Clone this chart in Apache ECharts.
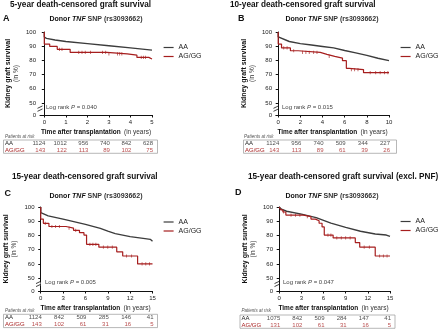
<!DOCTYPE html>
<html>
<head>
<meta charset="utf-8">
<script src="https://cdn.jsdelivr.net/npm/echarts@6/dist/echarts.min.js"></script>
<style>
  html, body { margin: 0; padding: 0; background: #fff; }
  #chart { width: 440px; height: 329px; }
</style>
</head>
<body>
<div id="chart"></div>
<script>
// ---- values ----
var groups = ['AA', 'AG/GG'];
var panelTitles = [
  '5-year death-censored graft survival',
  '10-year death-censored graft survival',
  '15-year death-censored graft survival',
  '15-year death-censored graft survival (excl. PNF)'
];
var letters = ['A', 'B', 'C', 'D'];
var pValues = ['0.040', '0.015', '0.005', '0.047'];
var yTicks = [50, 60, 70, 80, 90, 100];

var ticksA = [0, 1, 2, 3, 4, 5];
var ticksB = [0, 2, 4, 6, 8, 10];
var ticksC = [0, 3, 6, 9, 12, 15];
var ticksD = [0, 3, 6, 9, 12, 15];

// survival (%) vs years
var aaA = [[0, 100], [0, 96.5], [0.1, 95.5], [0.5, 94.4], [1, 93.3], [2, 91.8], [3, 90.3], [4, 88.8], [5, 87.2]];
var agA = [[0, 100], [0, 91.5], [0.25, 89.8], [0.6, 87.8], [1.2, 85.6], [2.9, 84.6], [3.85, 83.7], [4.3, 82.1], [4.85, 81], [5, 81]];
var censA = [0.7, 0.82, 1.6, 1.75, 1.9, 2.15, 2.7, 2.85, 3.0, 3.4, 3.5, 3.6, 4.5, 4.6, 4.7];

var aaB = [[0, 100], [0, 96.5], [0.1, 95.5], [1, 93.3], [2, 91.8], [3, 90.8], [4, 89.8], [5, 88.8], [6, 87], [7, 85.3], [8, 83.5], [9, 81.5], [10, 79.8]];
var agB = [[0, 100], [0, 91.5], [0.3, 88.8], [1.1, 86.8], [1.8, 85.6], [3.8, 84.2], [4.4, 82.8], [5.1, 81.6], [5.8, 79.8], [6.15, 74.4], [6.4, 73.5], [7.7, 71.3], [10, 71.3]];
var censB = [0.5, 0.8, 1.4, 2.2, 2.5, 2.8, 3.2, 3.5, 4.6, 6.6, 6.9, 7.2, 8.3, 8.8, 9.2, 9.6, 9.9];

var aaC = [[0, 100], [0, 96], [0.2, 95], [1, 93.8], [3, 91.5], [6, 87.8], [8, 85], [9, 83], [10, 81.3], [12, 79.2], [14, 77.8], [14.7, 77.3], [15, 76]];
var agC = [[0, 100], [0, 91.5], [0.35, 88.5], [1.1, 86.3], [3.4, 85.2], [4.4, 83.6], [5.2, 82], [5.8, 80.3], [6.15, 73.8], [7.8, 71.8], [10.2, 68.5], [11, 65.6], [13, 60], [15, 60]];
var censC = [0.6, 1.5, 2, 2.5, 3.8, 4.7, 6.6, 7, 7.4, 8.4, 9, 9.6, 11.5, 12.2, 13.6, 14.1, 14.6];

var aaD = [[0, 100], [0.3, 98.5], [1, 97], [3, 95], [5, 92.5], [7, 88.7], [9, 85.7], [11, 83], [13, 81], [14.5, 80.3], [15, 79.3]];
var agD = [[0, 100], [0.2, 98], [0.5, 96.5], [0.9, 94.3], [3.3, 93.3], [4.3, 91.5], [4.9, 90.3], [5.4, 88.6], [5.8, 86], [6.1, 80.3], [7.3, 78.3], [10.3, 75], [10.9, 71.8], [13, 65.6], [15, 65.6]];
var censD = [0.6, 1.6, 2.2, 2.8, 3.8, 6.6, 7, 7.8, 8.4, 9, 9.6, 11.5, 12.2, 13.6, 14.1, 14.6];

// patients at risk
var riskAA_A = [1124, 1012, 956, 740, 842, 628];
var riskAG_A = [143, 122, 113, 89, 102, 75];
var riskAA_B = [1124, 956, 740, 509, 344, 227];
var riskAG_B = [143, 113, 89, 61, 39, 26];
var riskAA_C = [1124, 842, 509, 285, 146, 41];
var riskAG_C = [143, 102, 61, 31, 16, 5];
var riskAA_D = [1075, 842, 509, 284, 147, 41];
var riskAG_D = [131, 102, 61, 31, 16, 5];

// ---- layout ----
var layout = [
  { grid: [40, 32, 112, 83], xMin: -0.2, xMax: 5, yMin: 41.5, box: [3.5, 140, 154, 13.3],
    letter: [3, 14.5], title: [10, 0.5], sub: [96, 16], legend: [163, 44], logrank: [46, 104], risk: [5, 134.5] },
  { grid: [276, 32, 113, 83], xMin: -0.2, xMax: 10, yMin: 41.5, box: [243.5, 140, 153, 13.3],
    letter: [238, 14.5], title: [230, 0.5], sub: [332, 16], legend: [400, 44], logrank: [282, 104], risk: [244, 134.5] },
  { grid: [38.5, 207, 114, 84], xMin: -0.3, xMax: 15, yMin: 41, box: [3.5, 314.3, 154, 13.3],
    letter: [4.5, 189.5], title: [12, 173], sub: [96, 193], legend: [163, 218.5], logrank: [45, 279], risk: [5, 308.5] },
  { grid: [277, 207, 113, 84], xMin: -0.3, xMax: 15, yMin: 41, box: [240, 315, 155, 13.3],
    letter: [235, 188.5], title: [248, 173], sub: [332, 192.5], legend: [400, 218], logrank: [283, 279], risk: [241.5, 308.5] }
];

var panels = [
  { ticks: ticksA, aa: aaA, ag: agA, cens: censA, rAA: riskAA_A, rAG: riskAG_A },
  { ticks: ticksB, aa: aaB, ag: agB, cens: censB, rAA: riskAA_B, rAG: riskAG_B },
  { ticks: ticksC, aa: aaC, ag: agC, cens: censC, rAA: riskAA_C, rAG: riskAG_C },
  { ticks: ticksD, aa: aaD, ag: agD, cens: censD, rAA: riskAA_D, rAG: riskAG_D }
];

var FONT = 'Liberation Sans, Arial, sans-serif';
var AA_COLOR = '#3c3c3c';
var AG_COLOR = '#a61e1e';

function stepAt(arr, t) {
  var s = arr[0][1];
  for (var k = 0; k < arr.length; k++) {
    if (arr[k][0] <= t) s = arr[k][1];
  }
  return s;
}

var option = {
  backgroundColor: '#fff',
  animation: false,
  textStyle: { fontFamily: FONT },
  title: [], grid: [], xAxis: [], yAxis: [], legend: [], series: []
};

panels.forEach(function (p, i) {
  var L = layout[i];
  var g = option.grid.length;
  var ppu = L.grid[2] / (L.xMax - L.xMin);

  // texts
  option.title.push({ text: panelTitles[i], left: L.title[0], top: L.title[1], padding: 0,
    textStyle: { fontSize: 8.2, fontWeight: 'bold', color: '#111', fontFamily: FONT } });
  option.title.push({ text: letters[i], left: L.letter[0], top: L.letter[1], padding: 0,
    textStyle: { fontSize: 9, fontWeight: 'bold', color: '#111', fontFamily: FONT } });
  option.title.push({ text: '{b|Donor }{bi|TNF}{n| SNP (rs3093662)}', left: L.sub[0], top: L.sub[1], padding: 0, textAlign: 'center',
    textStyle: { fontFamily: FONT, rich: {
      b: { fontSize: 7, fontWeight: 'bold', color: '#111', fontFamily: FONT },
      bi: { fontSize: 7, fontWeight: 'bold', fontStyle: 'italic', color: '#111', fontFamily: FONT },
      n: { fontSize: 7, color: '#333', fontFamily: FONT } } } });
  option.title.push({ text: 'Log rank {i|P} = ' + pValues[i], left: L.logrank[0], top: L.logrank[1], padding: 0,
    textStyle: { fontSize: 6, color: '#444', fontWeight: 'normal', fontFamily: FONT,
      rich: { i: { fontSize: 6, fontStyle: 'italic', color: '#444', fontFamily: FONT } } } });
  option.title.push({ text: 'Patients at risk', left: L.risk[0], top: L.risk[1], padding: 0,
    textStyle: { fontSize: 4.5, fontStyle: 'italic', fontWeight: 'normal', color: '#555', fontFamily: FONT } });

  // main KM plot
  option.grid.push({ left: L.grid[0], top: L.grid[1], width: L.grid[2], height: L.grid[3], outerBoundsMode: 'none' });
  option.xAxis.push({
    type: 'value', gridIndex: g, min: L.xMin, max: L.xMax,
    splitLine: { show: false },
    axisLine: { lineStyle: { color: '#111', width: 1 } },
    axisTick: { customValues: p.ticks, length: 2.5, lineStyle: { color: '#111' } },
    axisLabel: { customValues: p.ticks, fontSize: 6, color: '#222', margin: 4 },
    name: '{b|Time after transplantation} {n|(in years)}',
    nameLocation: 'middle', nameGap: 8.5,
    nameTextStyle: { rich: {
      b: { fontSize: 6.5, fontWeight: 'bold', color: '#111', fontFamily: FONT },
      n: { fontSize: 6.5, color: '#333', fontFamily: FONT } } }
  });
  var yVals = [L.yMin].concat(yTicks);
  option.yAxis.push({
    type: 'value', gridIndex: g, min: L.yMin, max: 100,
    splitLine: { show: false },
    axisLine: { show: true, lineStyle: { color: '#111', width: 1 } },
    axisTick: { show: true, customValues: yVals, length: 2.5, lineStyle: { color: '#111' } },
    axisLabel: { customValues: yVals, fontSize: 6, color: '#222', margin: 4,
      formatter: function (v) { return v < 45 ? '0' : String(v); } },
    name: '{b|Kidney graft survival}\n{n|(in %)}',
    nameLocation: 'middle', nameRotate: 90, nameGap: 20,
    nameTextStyle: { rich: {
      b: { fontSize: 7, fontWeight: 'bold', color: '#111', fontFamily: FONT, lineHeight: 8 },
      n: { fontSize: 6.5, color: '#333', fontFamily: FONT, lineHeight: 8 } } }
  });
  option.series.push({ type: 'line', name: groups[0], xAxisIndex: g, yAxisIndex: g, data: p.aa,
    symbol: 'none', silent: true, lineStyle: { color: AA_COLOR, width: 1.4 }, itemStyle: { color: AA_COLOR } });
  option.series.push({ type: 'line', name: groups[1], xAxisIndex: g, yAxisIndex: g, data: p.ag, step: 'end',
    symbol: 'none', silent: true, lineStyle: { color: AG_COLOR, width: 1.2 }, itemStyle: { color: AG_COLOR } });
  option.series.push({ type: 'scatter', name: 'censored', xAxisIndex: g, yAxisIndex: g, silent: true,
    data: p.cens.map(function (t) { return [t, stepAt(p.ag, t)]; }),
    symbol: 'rect', symbolSize: [0.8, 3.2], itemStyle: { color: AG_COLOR } });

  option.legend.push({ data: groups, left: L.legend[0], top: L.legend[1], orient: 'vertical', padding: 0,
    itemWidth: 10, itemHeight: 8, itemGap: 2, selectedMode: false,
    itemStyle: { opacity: 0 }, lineStyle: { width: 1.2 },
    textStyle: { fontSize: 7, color: '#222', fontFamily: FONT } });

  // patients-at-risk table, same x scale as the plot above
  var t = option.grid.length;
  var B = L.box;
  var tMin = L.xMin - (L.grid[0] - B[0]) / ppu;
  var tMax = L.xMax + ((B[0] + B[2]) - (L.grid[0] + L.grid[2])) / ppu;
  option.grid.push({ left: B[0], top: B[1], width: B[2], height: B[3], show: true,
    borderColor: '#9a9a9a', borderWidth: 0.7, backgroundColor: 'transparent', outerBoundsMode: 'none' });
  option.xAxis.push({ type: 'value', gridIndex: t, min: tMin, max: tMax, show: false });
  option.yAxis.push({ type: 'category', gridIndex: t, data: groups.slice().reverse(),
    axisLine: { show: false }, axisTick: { show: false }, splitLine: { show: false },
    axisLabel: { inside: true, interval: 0, margin: 1.5, fontSize: 6, hideOverlap: false,
      color: function (v) { return v === groups[1] ? AG_COLOR : '#222'; } } });
  [p.rAA, p.rAG].forEach(function (arr, k) {
    option.series.push({ type: 'scatter', name: 'risk' + k, xAxisIndex: t, yAxisIndex: t, silent: true,
      data: arr.map(function (n, j) { return [p.ticks[j], groups[k], n]; }),
      symbolSize: 1, itemStyle: { color: 'rgba(0,0,0,0)' },
      label: { show: true, position: 'left', distance: 0, offset: [1.5, 0], fontSize: 6, fontFamily: FONT,
        color: k === 0 ? '#222' : AG_COLOR, formatter: function (q) { return String(q.value[2]); } } });
  });
});

var chart = echarts.init(document.getElementById('chart'));
chart.setOption(option);

// axis-break marks on each y axis between 0 and 50
var marks = [];
layout.forEach(function (L, i) {
  var pt = chart.convertToPixel({ gridIndex: i * 2 }, [L.xMin, 46]);
  var x = pt[0], y = pt[1];
  marks.push({ type: 'rect', shape: { x: x - 2, y: y - 1.5, width: 4, height: 3 }, style: { fill: '#fff' }, z: 100 });
  marks.push({ type: 'line', shape: { x1: x - 2.5, y1: y - 0.3, x2: x + 2.5, y2: y - 2.7 }, style: { stroke: '#111', lineWidth: 0.8 }, z: 101 });
  marks.push({ type: 'line', shape: { x1: x - 2.5, y1: y + 2.7, x2: x + 2.5, y2: y + 0.3 }, style: { stroke: '#111', lineWidth: 0.8 }, z: 101 });
});
chart.setOption({ graphic: marks });
</script>
</body>
</html>
